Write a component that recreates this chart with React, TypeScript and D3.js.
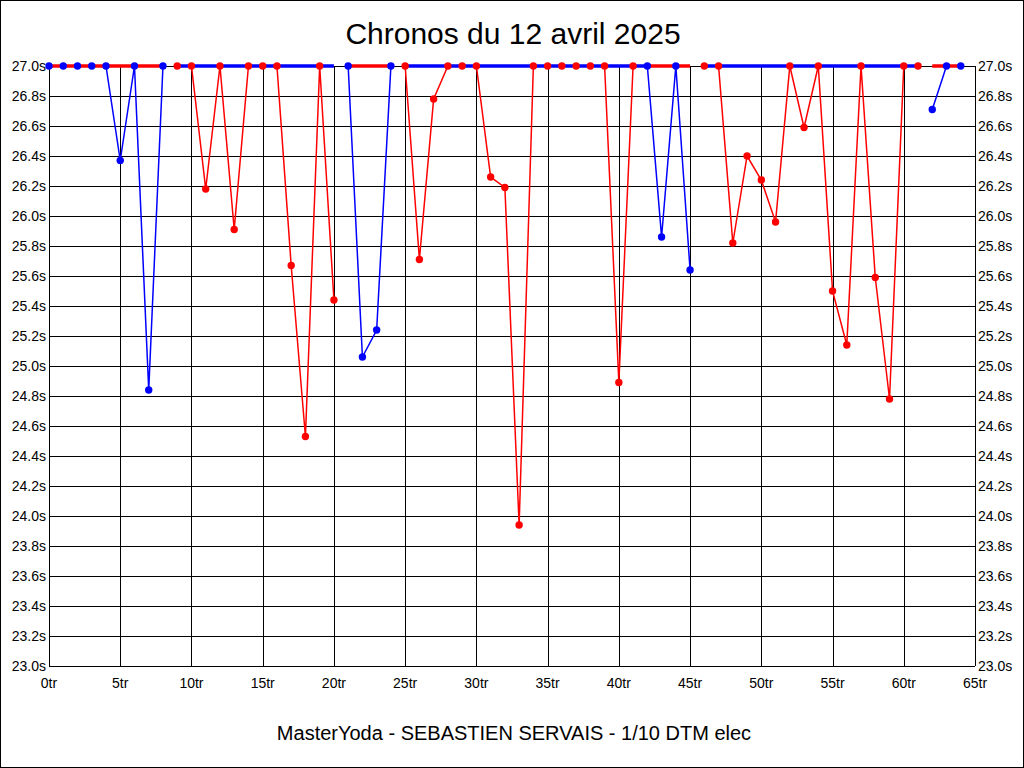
import React from "react";
import * as d3 from "d3";

// Lap numbers (tours)
const laps: number[] = [
  0, 1, 2, 3, 4, 5, 6, 7, 8, 9, 10, 11, 12, 13, 14, 15, 16, 17, 18, 19, 20,
  21, 22, 23, 24, 25, 26, 27, 28, 29, 30, 31, 32, 33, 34, 35, 36, 37, 38, 39, 40,
  41, 42, 43, 44, 45, 46, 47, 48, 49, 50, 51, 52, 53, 54, 55, 56, 57, 58, 59, 60,
  61, 62, 63, 64,
];

// Lap times (s), clamped at the top of the chart (27.0s)
const blueTimes: (number | null)[] = [
  27.0, 27.0, 27.0, 27.0, 27.0, 26.37, 27.0, 24.84, 27.0,
  null, null, null, null, null, null, null, null, null, null, null, null,
  27.0, 25.06, 25.24, 27.0,
  null, null, null, null, null, null, null, null, null, null, null, null, null, null, null, null, null,
  27.0, 25.86, 27.0, 25.64,
  null, null, null, null, null, null, null, null, null, null, null, null, null, null, null, null,
  26.71, 27.0, 27.0,
];

const redTimes: (number | null)[] = [
  null, null, null, null, null, null, null, null, null,
  27.0, 27.0, 26.18, 27.0, 25.91, 27.0, 27.0, 27.0, 25.67, 24.53, 27.0, 25.44,
  null, null, null, null,
  27.0, 25.71, 26.78, 27.0, 27.0, 27.0, 26.26, 26.19, 23.94, 27.0, 27.0, 27.0, 27.0, 27.0, 27.0, 24.89, 27.0,
  null, null, null, null,
  27.0, 27.0, 25.82, 26.40, 26.24, 25.96, 27.0, 26.59, 27.0, 25.50, 25.14, 27.0, 25.59, 24.78, 27.0, 27.0,
  null, null, null,
];

// Lap ranges where each series runs off the top of the chart
const blueOffChart: [number, number][] = [[9, 20], [25, 42], [46, 61]];
const redOffChart: [number, number][] = [[0, 8], [21, 24], [42, 45], [62, 64]];

const xTicks: number[] = [0, 5, 10, 15, 20, 25, 30, 35, 40, 45, 50, 55, 60, 65];
const yTicks: number[] = [
  23.0, 23.2, 23.4, 23.6, 23.8, 24.0, 24.2, 24.4, 24.6, 24.8, 25.0,
  25.2, 25.4, 25.6, 25.8, 26.0, 26.2, 26.4, 26.6, 26.8, 27.0,
];

const title = "Chronos du 12 avril 2025";
const subtitle = "MasterYoda - SEBASTIEN SERVAIS - 1/10 DTM elec";

const BLUE = "#0000ff";
const RED = "#ff0000";
const FONT = "'Liberation Sans', Arial, sans-serif";

export default function App() {
  const W = 1024;
  const H = 768;
  const left = 49, right = 975, top = 66, bottom = 666;

  const x = d3.scaleLinear().domain([0, 65]).range([left, right]);
  const y = d3.scaleLinear().domain([23, 27]).range([bottom, top]);

  const line = d3
    .line<number | null>()
    .defined((d) => d != null)
    .x((_, i) => x(laps[i]))
    .y((d) => y(d as number));

  const flatLine = d3
    .line<number>()
    .x((d) => x(d))
    .y(() => y(27));

  const seriesDefs = [
    { values: redTimes, color: RED, off: redOffChart },
    { values: blueTimes, color: BLUE, off: blueOffChart },
  ];

  return (
    <div style={{ position: "absolute", left: 0, top: 0 }}>
      <svg width={W} height={H} style={{ display: "block", background: "#fff" }}>
        <rect x={0.5} y={0.5} width={W - 1} height={H - 1} fill="#fff" stroke="#000" strokeWidth={1} />

        <text x={513} y={44} textAnchor="middle" fontFamily={FONT} fontSize={30} fill="#000">
          {title}
        </text>

        {/* grid */}
        <g shapeRendering="crispEdges" stroke="#000" strokeWidth={1}>
          {yTicks.map((t) => (
            <line key={"gy" + t} x1={left} x2={right} y1={Math.round(y(t)) + 0.5} y2={Math.round(y(t)) + 0.5} />
          ))}
          {xTicks.map((t) => (
            <line key={"gx" + t} x1={Math.round(x(t)) + 0.5} x2={Math.round(x(t)) + 0.5} y1={top} y2={bottom} />
          ))}
        </g>

        {/* tick labels */}
        <g fontFamily={FONT} fontSize={14} fill="#000">
          {yTicks.map((t) => (
            <text key={"ly" + t} x={left - 3} y={y(t)} dy="0.36em" textAnchor="end">
              {t.toFixed(1) + "s"}
            </text>
          ))}
          {yTicks.map((t) => (
            <text key={"ry" + t} x={right + 3} y={y(t)} dy="0.36em" textAnchor="start">
              {t.toFixed(1) + "s"}
            </text>
          ))}
          {xTicks.map((t) => (
            <text key={"lx" + t} x={x(t)} y={688} textAnchor="middle">
              {t + "tr"}
            </text>
          ))}
        </g>

        {/* real lap lines */}
        {seriesDefs.map((s, i) => (
          <path key={"l" + i} d={line(s.values) || ""} fill="none" stroke={s.color} strokeWidth={1.5} />
        ))}

        {/* off-chart lines along the top */}
        {seriesDefs.map((s, i) =>
          s.off.map((r, j) => (
            <path key={"o" + i + "-" + j} d={flatLine(r) || ""} fill="none" stroke={s.color} strokeWidth={3.5} />
          ))
        )}

        {/* points */}
        {seriesDefs.map((s, i) =>
          s.values.map((v, j) =>
            v == null ? null : (
              <circle key={"p" + i + "-" + j} cx={x(laps[j])} cy={y(v)} r={3.7} fill={s.color} />
            )
          )
        )}

        <text x={514} y={740} textAnchor="middle" fontFamily={FONT} fontSize={20} fill="#000">
          {subtitle}
        </text>
      </svg>
    </div>
  );
}
